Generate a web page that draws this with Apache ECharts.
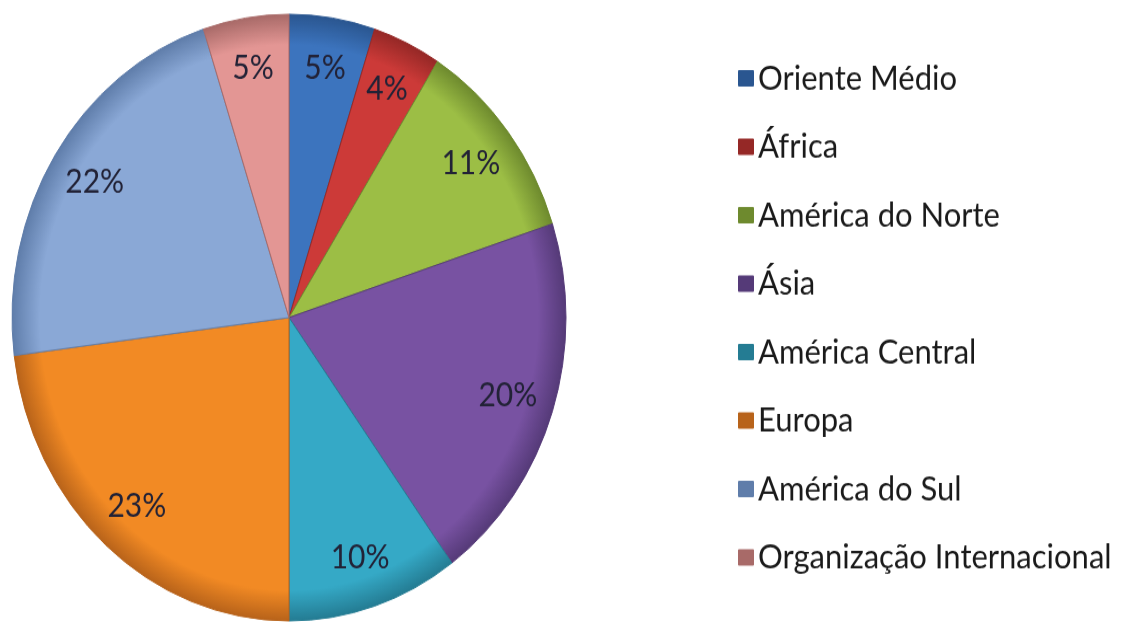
<!DOCTYPE html>
<html>
<head>
<meta charset="utf-8">
<script src="https://cdn.jsdelivr.net/npm/echarts@6/dist/echarts.min.js"></script>
<style>
html,body{margin:0;padding:0;background:#fff;overflow:hidden;}
#wrap{width:1126px;height:622px;overflow:hidden;}
#chart{width:1126px;height:568px;transform:scaleY(1.0951);transform-origin:0 0;}
</style>
</head>
<body>
<div id="wrap"><div id="chart"></div></div>
<script>
const categories = ['Oriente Médio','África','América do Norte','Ásia','América Central','Europa','América do Sul','Organização Internacional'];
const values = [5, 4, 11, 20, 10, 23, 22, 5];
const colors = ['#3C74BE','#CC3A38','#9CBE45','#7852A2','#35A9C6','#F28A24','#8AA8D6','#E39694'];
const rims = ['#2A5690','#952826','#6E8A2E','#553A78','#247C93','#B8631A','#5F7DAA','#A86A68'];

const CX = 289, CY = 290, R = 277;
const chart = echarts.init(document.getElementById('chart'), null, {renderer:'canvas'});

const pieData = categories.map((n,i)=>({
  name:n, value:values[i],
  itemStyle:{
    color:{type:'radial', x:CX, y:CY, r:R, global:true,
      colorStops:[{offset:0,color:colors[i]},{offset:0.9,color:colors[i]},{offset:1,color:rims[i]}]},
    borderColor:rims[i], borderWidth:1
  }
}));
const labelData = categories.map((n,i)=>({name:n, value:values[i]}));

chart.setOption({
  animation:false,
  color: colors,
  legend:{
    orient:'vertical', left:733, top:51,
    data: categories,
    icon:'rect', itemWidth:14, itemHeight:13, itemGap:31.5,
    textStyle:{fontFamily:'Lato', fontSize:31, color:'#1a1a1a', lineHeight:30, padding:[0,0,0,0]},
    selectedMode:false
  },
  series:[
    {
      type:'pie', center:[CX,CY], radius:[0,R], startAngle:90, clockwise:true,
      data: pieData, label:{show:false}, labelLine:{show:false}, silent:true
    },
    {
      type:'pie', center:[CX,CY], radius:[R*0.64,R], startAngle:90, clockwise:true,
      data: labelData, silent:true,
      itemStyle:{color:'rgba(0,0,0,0)', borderWidth:0},
      label:{show:true, position:'inside', formatter:'{c}%', fontFamily:'Lato', fontSize:30, color:'#222236'},
      labelLine:{show:false}
    }
  ]
});
</script>
</body>
</html>
